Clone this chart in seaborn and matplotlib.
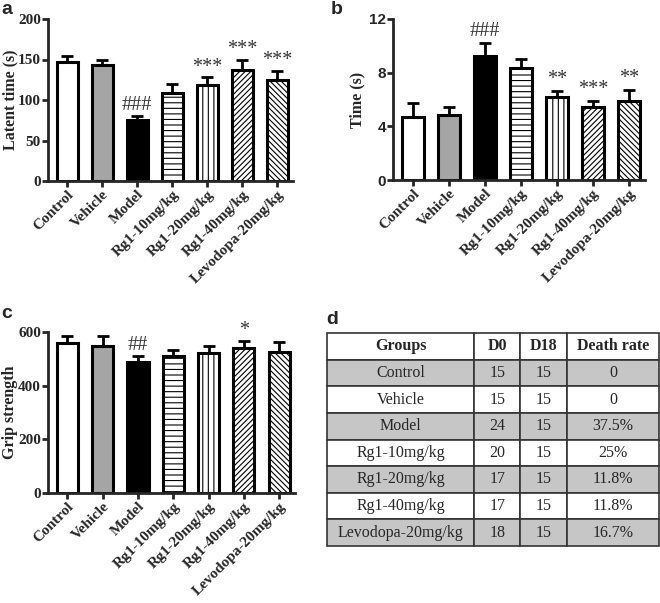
import matplotlib
matplotlib.use("Agg")
import matplotlib.pyplot as plt
import pandas as pd
import seaborn as sns

groups = ["Control", "Vehicle", "Model", "Rg1-10mg/kg", "Rg1-20mg/kg",
          "Rg1-40mg/kg", "Levodopa-20mg/kg"]

latent_mean = [147, 143, 75, 109, 119, 137, 125]
latent_sem = [7, 7, 5, 11, 9, 12, 11]
latent_marks = ["", "", "###", "", "***", "***", "***"]

time_mean = [4.67, 4.87, 9.24, 8.35, 6.21, 5.46, 5.86]
time_sem = [1.04, 0.55, 0.99, 0.64, 0.40, 0.45, 0.85]
time_marks = ["", "", "###", "", "**", "***", "**"]

grip_mean = [559, 549, 489, 509, 521, 541, 526]
grip_sem = [25, 35, 22, 25, 28, 25, 35]
grip_marks = ["", "", "##", "", "", "*", ""]

table_cols = ["Groups", "D0", "D18", "Death rate"]
d0 = [15, 15, 24, 20, 17, 17, 18]
d18 = [15, 15, 15, 15, 15, 15, 15]
death_rate = ["0", "0", "37.5%", "25%", "11.8%", "11.8%", "16.7%"]

fills = ["white", "#a5a5a5", "black", "white", "white", "white", "white"]
hatches = ["", "", "", "---", "|||", "//////", "\\\\\\\\\\\\"]

sns.set_style("ticks")
plt.rcParams["hatch.linewidth"] = 0.8
SERIF = "Liberation Serif"
SANS = "Liberation Sans"

W, H = 660, 603
fig = plt.figure(figsize=(W / 100, H / 100), dpi=100)


def px_axes(left, top, right, bottom):
    return fig.add_axes([left / W, 1 - bottom / H, (right - left) / W, (bottom - top) / H])


def bar_panel(ax, means, sems, marks, ylabel, yticks, ymax, tick_font, mark_off, label_x):
    df = pd.DataFrame({"group": groups, "value": means})
    sns.barplot(data=df, x="group", y="value", hue="group", palette=fills,
                width=0.6, edgecolor="black", linewidth=2.2, legend=False,
                errorbar=None, ax=ax)
    for patch, h in zip(ax.patches, hatches):
        patch.set_hatch(h)
    ax.errorbar(range(len(groups)), means, yerr=[[0] * len(sems), sems],
                fmt="none", ecolor="black", elinewidth=2, capsize=4,
                capthick=2, zorder=1)
    for i, (m, s, t) in enumerate(zip(means, sems, marks)):
        if t:
            ax.text(i, m + s + mark_off, t, ha="center", va="bottom",
                    family=SERIF, fontsize=14.5, color="#333333")
    ax.set_xlim(-0.55, 6.45)
    ax.set_ylim(0, ymax)
    ax.set_yticks(yticks)
    ax.set_xlabel("")
    ax.set_ylabel(ylabel, family=SERIF, fontweight="bold", fontsize=11.5)
    ax.yaxis.set_label_coords(label_x, 0.5)
    ax.set_xticks(range(len(groups)))
    ax.set_xticklabels(groups, rotation=45, ha="right", rotation_mode="anchor",
                       family=SERIF, fontweight="bold", fontsize=11)
    for lab in ax.get_yticklabels():
        lab.set_family(tick_font)
        lab.set_fontweight("bold")
        lab.set_fontsize(11)
    ax.tick_params(width=2, length=4, direction="out", pad=1)
    for side in ["left", "bottom"]:
        ax.spines[side].set_linewidth(2)
    sns.despine(ax=ax)


ax_a = px_axes(48, 19, 293, 181)
bar_panel(ax_a, latent_mean, latent_sem, latent_marks, "Latent time (s)",
          [0, 50, 100, 150, 200], 200, SERIF, 1, -0.122)

ax_b = px_axes(393, 19, 645, 180)
bar_panel(ax_b, time_mean, time_sem, time_marks, "Time (s)",
          [0, 4, 8, 12], 12, SANS, 0.15, -0.11)

ax_c = px_axes(48, 332, 295, 493)
bar_panel(ax_c, grip_mean, grip_sem, grip_marks, "Grip strength",
          [0, 200, 400, 600], 600, SERIF, 3, -0.122)

ax_d = px_axes(327, 333, 659, 546)
ax_d.axis("off")
cells = [[g, str(a), str(b), r] for g, a, b, r in zip(groups, d0, d18, death_rate)]
row_colors = [["#c6c6c6"] * 4 if i % 2 == 0 else ["white"] * 4 for i in range(len(cells))]
tbl = ax_d.table(cellText=cells, colLabels=table_cols, cellColours=row_colors,
                 colWidths=[0.443, 0.139, 0.142, 0.276], cellLoc="center",
                 bbox=[0, 0, 1, 1])
tbl.auto_set_font_size(False)
for (r, c), cell in tbl.get_celld().items():
    cell.set_linewidth(1.2)
    cell.set_edgecolor("#333333")
    cell.get_text().set_family(SERIF)
    cell.get_text().set_fontsize(11.5)
    if r == 0:
        cell.get_text().set_fontweight("bold")

for label, x, y in [("a", 1, 10), ("b", 331, 10), ("c", 1, 313), ("d", 326, 320)]:
    fig.text(x / W, 1 - y / H, label, family=SANS, fontweight="bold",
             fontsize=14, va="center", ha="left")

fig.savefig("out.png", dpi=100)
